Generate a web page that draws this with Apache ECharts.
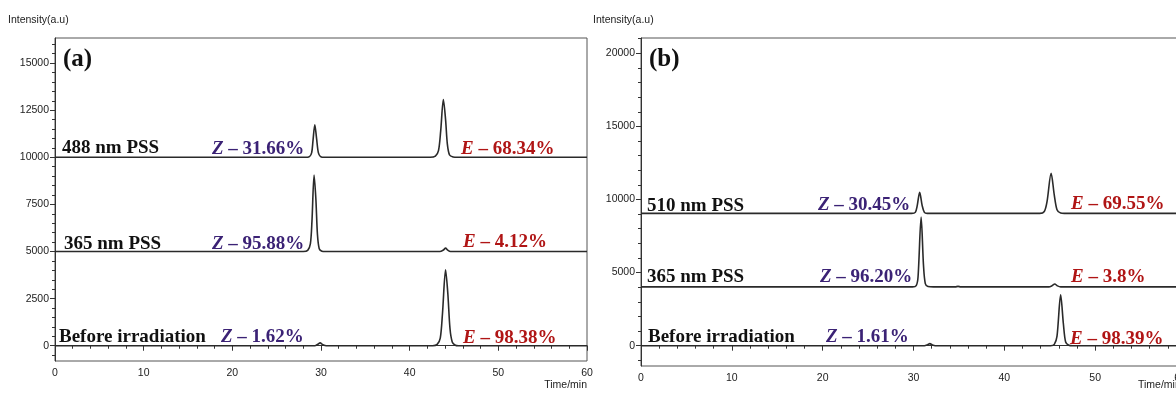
<!DOCTYPE html>
<html>
<head>
<meta charset="utf-8">
<script src="https://cdn.jsdelivr.net/npm/echarts@6/dist/echarts.min.js"></script>
<style>
html,body{margin:0;padding:0;background:#fff;}
#chart{width:1176px;height:394px;}
</style>
</head>
<body>
<div id="chart"></div>
<script>
// ---------------- DATA ----------------
// Panel (a): [time/min, intensity]
const trace488 = [[0,10000],[28.2,10000],[28.7,10040],[28.95,10250],[29.1,10900],[29.3,11730],[29.5,11000],[29.7,10250],[29.95,10040],[30.4,10000],[42.3,10000],[42.9,10060],[43.25,10350],[43.5,11400],[43.8,13070],[44.05,12000],[44.25,10700],[44.5,10120],[44.9,10020],[45.4,10000],[60,10000]];
const trace365a = [[0,5000],[28.0,5000],[28.5,5060],[28.8,5400],[28.98,6600],[29.22,9060],[29.42,7800],[29.6,5900],[29.8,5150],[30.1,5020],[30.5,5000],[43.4,5000],[43.8,5080],[44.05,5180],[44.3,5070],[44.6,5000],[60,5000]];
const traceBeforeA = [[0,0],[29.3,0],[29.65,80],[29.9,150],[30.2,60],[30.6,0],[42.6,0],[43.1,70],[43.45,400],[43.7,1700],[44.05,4030],[44.3,2800],[44.55,900],[44.8,200],[45.1,40],[45.5,0],[60,0]];
// Panel (b)
const trace510 = [[0,9050],[29.8,9050],[30.2,9120],[30.4,9550],[30.68,10500],[30.95,9600],[31.2,9120],[31.5,9050],[43.9,9050],[44.4,9180],[44.7,9850],[45.15,11800],[45.5,10300],[45.8,9300],[46.2,9070],[46.6,9050],[60,9050]];
const trace365b = [[0,4020],[29.9,4020],[30.3,4110],[30.5,4700],[30.84,8800],[31.1,5500],[31.3,4250],[31.6,4050],[32.2,4020],[34.6,4020],[34.9,4060],[35.2,4020],[44.9,4020],[45.25,4100],[45.55,4220],[45.85,4090],[46.2,4020],[60,4020]];
const traceBeforeB = [[0,0],[31.2,0],[31.55,70],[31.8,140],[32.05,60],[32.4,0],[45.1,0],[45.5,90],[45.8,650],[46.2,3480],[46.5,1500],[46.75,250],[47.1,30],[47.5,0],[60,0]];

const xTicks = [0,10,20,30,40,50,60];
const yTicksA = [0,2500,5000,7500,10000,12500,15000];
const yTicksB = [0,5000,10000,15000,20000];

const panelTags = ['(a)','(b)'];
const samplesA = ['488 nm PSS','365 nm PSS','Before irradiation'];
const zA = ['31.66%','95.88%','1.62%'];
const eA = ['68.34%','4.12%','98.38%'];
const samplesB = ['510 nm PSS','365 nm PSS','Before irradiation'];
const zB = ['30.45%','96.20%','1.61%'];
const eB = ['69.55%','3.8%','98.39%'];
const yName = 'Intensity(a.u)';
const xName = 'Time/min';

// ---------------- LAYOUT / STYLE ----------------
function minors(lo, hi, step, majors){
  const out=[]; for(let v=lo; v<=hi; v+=step){ if(majors.indexOf(v)<0) out.push(v);} return out;
}
const yMinorA = minors(-500,16000,500,yTicksA);
const yMinorB = minors(-1000,21000,1000,yTicksB);

const tickFont = {fontFamily:'"Liberation Sans", Arial, sans-serif', fontSize:10.5, color:'#222'};
const axisLine = {show:true, lineStyle:{color:'#333', width:1}};
const serif = '"Liberation Serif", "Times New Roman", serif';
const purple = '#3b2275', red = '#b01515';

function xAxisCfg(gi, alignMax){
  const lab = Object.assign({margin:7, customValues:xTicks, formatter:function(v){return String(v);}}, tickFont);
  if(alignMax) lab.alignMaxLabel = 'right';
  return {type:'value', gridIndex:gi, min:0, max:60, interval:10,
    axisLine:axisLine, axisTick:{show:true,length:5,lineStyle:{color:'#333'}},
    minorTick:{show:true,splitNumber:5,length:3,lineStyle:{color:'#333'}},
    axisLabel:lab, splitLine:{show:false}};
}
function yAxisCfg(gi,min,max,ticks){
  return {type:'value', gridIndex:gi, min:min, max:max, position:'left',
    axisLine:axisLine,
    axisTick:{show:true,length:5,customValues:ticks,lineStyle:{color:'#333'}},
    axisLabel:Object.assign({margin:6, customValues:ticks, formatter:function(v){return String(v);}}, tickFont),
    splitLine:{show:false}};
}
function yMinorCfg(gi,min,max,ticks){
  return {type:'value', gridIndex:gi, min:min, max:max, position:'left',
    axisLine:{show:false}, axisLabel:{show:false}, splitLine:{show:false},
    axisTick:{show:true,length:3,customValues:ticks,lineStyle:{color:'#333'}}};
}
function line(data, xi, yi){
  return {type:'line', data:data, xAxisIndex:xi, yAxisIndex:yi, showSymbol:false, symbol:'none',
    smooth:0.3, lineStyle:{color:'#2a2a2a', width:1.6}, silent:true};
}

function txt(x, baseline, text, size, color, rich){
  const st = {text:text, fill:color, fontFamily:serif, fontSize:size, fontWeight:'bold', verticalAlign:'middle', align:'left'};
  if(rich){ st.rich = {i:{fontStyle:'italic', fontWeight:'bold', fontFamily:serif, fontSize:size, fill:color}}; }
  return {type:'text', x:x, y:baseline - Math.round(size*0.32), style:st, z:100};
}
function sans(x, y, text, align){
  return {type:'text', x:x, y:y, style:{text:text, fill:'#222', fontFamily:'"Liberation Sans", Arial, sans-serif', fontSize:10.5, verticalAlign:'middle', align:align||'left'}, z:100};
}

const FS = 19;
const graphics = [
  txt(63, 68, panelTags[0], 25, '#111'),
  txt(649, 68, panelTags[1], 25, '#111'),
  txt(62, 154, samplesA[0], FS, '#111'),
  txt(64, 250, samplesA[1], FS, '#111'),
  txt(59, 343, samplesA[2], FS, '#111'),
  txt(212, 155, '{i|Z} – ' + zA[0], FS, purple, true),
  txt(212, 250, '{i|Z} – ' + zA[1], FS, purple, true),
  txt(221, 343, '{i|Z} – ' + zA[2], FS, purple, true),
  txt(461, 155, '{i|E} – ' + eA[0], FS, red, true),
  txt(463, 248, '{i|E} – ' + eA[1], FS, red, true),
  txt(463, 344, '{i|E} – ' + eA[2], FS, red, true),
  txt(647, 212, samplesB[0], FS, '#111'),
  txt(647, 283, samplesB[1], FS, '#111'),
  txt(648, 343, samplesB[2], FS, '#111'),
  txt(818, 211, '{i|Z} – ' + zB[0], FS, purple, true),
  txt(820, 283, '{i|Z} – ' + zB[1], FS, purple, true),
  txt(826, 343, '{i|Z} – ' + zB[2], FS, purple, true),
  txt(1071, 210, '{i|E} – ' + eB[0], FS, red, true),
  txt(1071, 283, '{i|E} – ' + eB[1], FS, red, true),
  txt(1070, 345, '{i|E} – ' + eB[2], FS, red, true),
  sans(8, 20, yName),
  sans(593, 20, yName),
  sans(587, 385, xName, 'right'),
  sans(1138, 385, xName)
];

const option = {
  animation:false,
  backgroundColor:'#fff',
  grid:[
    {left:55, top:38, width:532, height:323, show:true, borderColor:'#555', borderWidth:1, outerBoundsMode:'none', containLabel:false},
    {left:641, top:38, width:545, height:328, show:true, borderColor:'#555', borderWidth:1, outerBoundsMode:'none', containLabel:false}
  ],
  xAxis:[xAxisCfg(0,false), xAxisCfg(1,true)],
  yAxis:[
    yAxisCfg(0,-810,16330,yTicksA),
    yMinorCfg(0,-810,16330,yMinorA),
    yAxisCfg(1,-1390,21050,yTicksB),
    yMinorCfg(1,-1390,21050,yMinorB)
  ],
  series:[
    line(trace488,0,0), line(trace365a,0,0), line(traceBeforeA,0,0),
    line(trace510,1,2), line(trace365b,1,2), line(traceBeforeB,1,2)
  ],
  graphic:graphics
};
const chart = echarts.init(document.getElementById('chart'), null, {renderer:'canvas'});
chart.setOption(option);
</script>
</body>
</html>
